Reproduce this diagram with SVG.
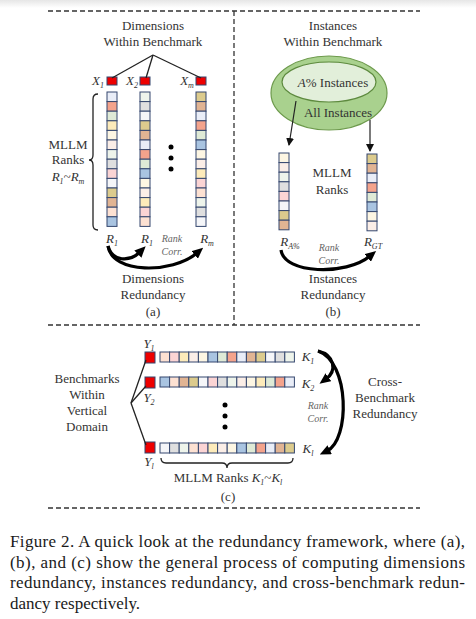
<svg xmlns="http://www.w3.org/2000/svg" width="476" height="619" viewBox="0 0 476 619">
<style>
text{font-family:"Liberation Serif","Times New Roman",serif;fill:#333}
.h{font-size:13px;text-anchor:middle}
.it{font-style:italic}
.rc{font-size:10px;font-style:italic;fill:#666;text-anchor:middle}
.cap{font-size:17px;fill:#1a1a1a}
.dash{fill:none;stroke:#333;stroke-width:1.3;stroke-dasharray:5 3}
.ln{fill:none;stroke:#222;stroke-width:1.3}
.arc{fill:none;stroke:#000;stroke-width:3.2}
.cells rect{stroke:#34466e;stroke-width:1}
.red{fill:#ee0000;stroke:#34466e;stroke-width:1}
.a{fill:#e9edf7}.s{fill:#f4a38c}.g{fill:#dfead6}.y{fill:#fdebba}.c{fill:#fdf6e3}.v{fill:#fbeee7}.m{fill:#eef4eb}
.r{fill:#dfdfdf}.p{fill:#fbd4d4}.w{fill:#f5f6f9}.k{fill:#dccb8d}.t{fill:#e1b493}.e{fill:#fde1d2}.b{fill:#a9c4e1}
</style>
<defs>
<linearGradient id="topg" x1="0" y1="0" x2="0" y2="1"><stop offset="0" stop-color="#e6e6e6"/><stop offset="1" stop-color="#fff"/></linearGradient>
<marker id="big" markerUnits="userSpaceOnUse" markerWidth="11" markerHeight="10" refX="3" refY="5" orient="auto"><path d="M0,0 L11,5 L0,10 z" fill="#000"/></marker>
<marker id="sm" markerUnits="userSpaceOnUse" markerWidth="8" markerHeight="8" refX="7" refY="4" orient="auto"><path d="M0,0 L8,4 L0,8 z" fill="#111"/></marker>
</defs>
<rect width="476" height="619" fill="#fff"/>
<rect width="476" height="8" fill="url(#topg)"/>

<g id="frame">
<path class="dash" d="M48,11 H420"/>
<path class="dash" d="M234,11 V325"/>
<path class="dash" d="M48,325 H420"/>
<path class="dash" d="M48,508 H420"/>
</g>

<!-- Panel (a) -->
<g id="a-title"><text class="h" x="153" y="30">Dimensions</text><text class="h" x="153" y="46">Within Benchmark</text></g>
<g id="a-x1"><text class="h it" x="98" y="85">X<tspan font-size="8" dy="3">1</tspan></text><rect class="red" x="107" y="77" width="10" height="8"/></g>
<g id="a-x2"><text class="h it" x="132" y="85">X<tspan font-size="8" dy="3">2</tspan></text><rect class="red" x="140" y="77" width="10" height="8"/></g>
<g id="a-xm"><text class="h it" x="187" y="85">X<tspan font-size="8" dy="3">m</tspan></text><rect class="red" x="196" y="77" width="10" height="8"/></g>
<g id="a-col1" class="cells" transform="translate(107,92)">
<rect class="a" y="0" width="10" height="9.6"/><rect class="s" y="9.6" width="10" height="9.6"/><rect class="g" y="19.2" width="10" height="9.6"/><rect class="y" y="28.8" width="10" height="9.6"/><rect class="c" y="38.4" width="10" height="9.6"/><rect class="v" y="48" width="10" height="9.6"/><rect class="m" y="57.6" width="10" height="9.6"/><rect class="r" y="67.2" width="10" height="9.6"/><rect class="p" y="76.8" width="10" height="9.6"/><rect class="w" y="86.4" width="10" height="9.6"/><rect class="k" y="96" width="10" height="9.6"/><rect class="t" y="105.6" width="10" height="9.6"/><rect class="e" y="115.2" width="10" height="9.6"/><rect class="b" y="124.8" width="10" height="9.6"/>
</g>
<g id="a-col2" class="cells" transform="translate(140,92)">
<rect class="m" y="0" width="10" height="9.6"/><rect class="r" y="9.6" width="10" height="9.6"/><rect class="w" y="19.2" width="10" height="9.6"/><rect class="k" y="28.8" width="10" height="9.6"/><rect class="t" y="38.4" width="10" height="9.6"/><rect class="a" y="48" width="10" height="9.6"/><rect class="s" y="57.6" width="10" height="9.6"/><rect class="g" y="67.2" width="10" height="9.6"/><rect class="b" y="76.8" width="10" height="9.6"/><rect class="c" y="86.4" width="10" height="9.6"/><rect class="v" y="96" width="10" height="9.6"/><rect class="y" y="105.6" width="10" height="9.6"/><rect class="p" y="115.2" width="10" height="9.6"/><rect class="e" y="124.8" width="10" height="9.6"/>
</g>
<g id="a-col3" class="cells" transform="translate(196,92)">
<rect class="k" y="0" width="10" height="9.6"/><rect class="t" y="9.6" width="10" height="9.6"/><rect class="a" y="19.2" width="10" height="9.6"/><rect class="s" y="28.8" width="10" height="9.6"/><rect class="g" y="38.4" width="10" height="9.6"/><rect class="b" y="48" width="10" height="9.6"/><rect class="c" y="57.6" width="10" height="9.6"/><rect class="v" y="67.2" width="10" height="9.6"/><rect class="y" y="76.8" width="10" height="9.6"/><rect class="p" y="86.4" width="10" height="9.6"/><rect class="e" y="96" width="10" height="9.6"/><rect class="m" y="105.6" width="10" height="9.6"/><rect class="r" y="115.2" width="10" height="9.6"/><rect class="w" y="124.8" width="10" height="9.6"/>
</g>
<g id="a-dots" fill="#000"><circle cx="171" cy="147" r="2.5"/><circle cx="171" cy="158" r="2.5"/><circle cx="171" cy="169" r="2.5"/></g>
<g id="a-ranks">
<path class="ln" d="M98,94 Q93,94 93,99 L93,155 Q93,160 89,160 Q93,160 93,165 L93,225 Q93,230 98,230"/>
<text class="h" x="68" y="149">MLLM</text><text class="h" x="68" y="164">Ranks</text>
<text class="h it" x="68" y="181">R<tspan font-size="8" dy="3">1</tspan><tspan dy="-3">~R</tspan><tspan font-size="8" dy="3">m</tspan></text>
</g>
<g id="a-labels">
<text class="h it" x="112" y="243">R<tspan font-size="8" dy="3">1</tspan></text>
<text class="h it" x="147" y="243">R<tspan font-size="8" dy="3">1</tspan></text>
<text class="h it" x="207" y="243">R<tspan font-size="8" dy="3">m</tspan></text>
<text class="rc" x="172" y="242">Rank</text><text class="rc" x="172" y="255">Corr.</text>
</g>
<g id="a-foot"><text class="h" x="153" y="283">Dimensions</text><text class="h" x="153" y="299">Redundancy</text><text class="h" x="153" y="316">(a)</text></g>

<!-- Panel (b) -->
<g id="b-title"><text class="h" x="333" y="30">Instances</text><text class="h" x="333" y="46">Within Benchmark</text></g>
<g id="b-sets">
<ellipse cx="329" cy="93" rx="58" ry="37" fill="#a9d18e" stroke="#6d9a4c" stroke-width="1.2"/>
<ellipse cx="329" cy="82" rx="47" ry="20" fill="#e2efda" stroke="#5d8a3e" stroke-width="1.2"/>
<text class="h" x="333" y="87" font-size="13.5"><tspan class="it">A</tspan>% Instances</text>
<text class="h" x="338" y="117" font-size="13.5">All Instances</text>
</g>
<g id="b-col1" class="cells" transform="translate(279,153)">
<rect class="c" y="0" width="10" height="9.6"/><rect class="v" y="9.6" width="10" height="9.6"/><rect class="m" y="19.2" width="10" height="9.6"/><rect class="r" y="28.8" width="10" height="9.6"/><rect class="p" y="38.4" width="10" height="9.6"/><rect class="w" y="48" width="10" height="9.6"/><rect class="k" y="57.6" width="10" height="9.6"/><rect class="t" y="67.2" width="10" height="9.6"/>
</g>
<g id="b-col2" class="cells" transform="translate(367,154)">
<rect class="k" y="0" width="10" height="9.6"/><rect class="t" y="9.6" width="10" height="9.6"/><rect class="a" y="19.2" width="10" height="9.6"/><rect class="s" y="28.8" width="10" height="9.6"/><rect class="g" y="38.4" width="10" height="9.6"/><rect class="b" y="48" width="10" height="9.6"/><rect class="c" y="57.6" width="10" height="9.6"/><rect class="v" y="67.2" width="10" height="9.6"/>
</g>
<g id="b-mid"><text class="h" x="332" y="177">MLLM</text><text class="h" x="332" y="194">Ranks</text></g>
<g id="b-labels">
<text class="h it" x="290" y="246">R<tspan font-size="8" dy="3">A%</tspan></text>
<text class="h it" x="373" y="246">R<tspan font-size="8" dy="3">GT</tspan></text>
<text class="rc" x="329" y="251">Rank</text><text class="rc" x="329" y="264">Corr.</text>
</g>
<g id="b-foot"><text class="h" x="333" y="283">Instances</text><text class="h" x="333" y="299">Redundancy</text><text class="h" x="333" y="316">(b)</text></g>

<!-- Panel (c) -->
<g id="c-left"><text class="h" x="87" y="383">Benchmarks</text><text class="h" x="87" y="399">Within</text><text class="h" x="87" y="415">Vertical</text><text class="h" x="87" y="431">Domain</text></g>
<g id="c-y1"><rect class="red" x="145" y="352" width="10" height="11"/><text class="h it" x="149" y="348">Y<tspan font-size="8" dy="3">1</tspan></text></g>
<g id="c-y2"><rect class="red" x="145" y="377" width="10" height="11"/><text class="h it" x="149" y="402">Y<tspan font-size="8" dy="3">2</tspan></text></g>
<g id="c-yl"><rect class="red" x="145" y="442" width="10" height="11"/><text class="h it" x="149" y="466">Y<tspan font-size="8" dy="3">l</tspan></text></g>
<g id="c-row1" class="cells" transform="translate(160,352)">
<rect class="e" x="0" width="9.6" height="10"/><rect class="p" x="9.6" width="9.6" height="10"/><rect class="y" x="19.2" width="9.6" height="10"/><rect class="v" x="28.8" width="9.6" height="10"/><rect class="c" x="38.4" width="9.6" height="10"/><rect class="b" x="48" width="9.6" height="10"/><rect class="g" x="57.6" width="9.6" height="10"/><rect class="s" x="67.2" width="9.6" height="10"/><rect class="a" x="76.8" width="9.6" height="10"/><rect class="t" x="86.4" width="9.6" height="10"/><rect class="k" x="96" width="9.6" height="10"/><rect class="w" x="105.6" width="9.6" height="10"/><rect class="r" x="115.2" width="9.6" height="10"/><rect class="m" x="124.8" width="9.6" height="10"/>
</g>
<g id="c-row2" class="cells" transform="translate(160,377)">
<rect class="b" x="0" width="9.6" height="10"/><rect class="e" x="9.6" width="9.6" height="10"/><rect class="t" x="19.2" width="9.6" height="10"/><rect class="k" x="28.8" width="9.6" height="10"/><rect class="w" x="38.4" width="9.6" height="10"/><rect class="p" x="48" width="9.6" height="10"/><rect class="r" x="57.6" width="9.6" height="10"/><rect class="m" x="67.2" width="9.6" height="10"/><rect class="v" x="76.8" width="9.6" height="10"/><rect class="c" x="86.4" width="9.6" height="10"/><rect class="y" x="96" width="9.6" height="10"/><rect class="g" x="105.6" width="9.6" height="10"/><rect class="s" x="115.2" width="9.6" height="10"/><rect class="a" x="124.8" width="9.6" height="10"/>
</g>
<g id="c-row3" class="cells" transform="translate(160,443)">
<rect class="w" x="0" width="9.6" height="10"/><rect class="r" x="9.6" width="9.6" height="10"/><rect class="m" x="19.2" width="9.6" height="10"/><rect class="e" x="28.8" width="9.6" height="10"/><rect class="p" x="38.4" width="9.6" height="10"/><rect class="y" x="48" width="9.6" height="10"/><rect class="v" x="57.6" width="9.6" height="10"/><rect class="c" x="67.2" width="9.6" height="10"/><rect class="b" x="76.8" width="9.6" height="10"/><rect class="g" x="86.4" width="9.6" height="10"/><rect class="s" x="96" width="9.6" height="10"/><rect class="a" x="105.6" width="9.6" height="10"/><rect class="t" x="115.2" width="9.6" height="10"/><rect class="k" x="124.8" width="9.6" height="10"/>
</g>
<g id="c-dots" fill="#000"><circle cx="225" cy="405" r="2.5"/><circle cx="225" cy="416" r="2.5"/><circle cx="225" cy="427" r="2.5"/></g>
<g id="c-k">
<text class="h it" x="308" y="361">K<tspan font-size="8" dy="3">1</tspan></text>
<text class="h it" x="308" y="388">K<tspan font-size="8" dy="3">2</tspan></text>
<text class="h it" x="308" y="453">K<tspan font-size="8" dy="3">l</tspan></text>
</g>
<g id="c-bottom">
<path class="ln" d="M161,458 Q161,463 166,463 L222,463 Q227,463 227,468 Q227,463 232,463 L288,463 Q293,463 293,458"/>
<text class="h" x="228" y="482">MLLM Ranks <tspan class="it">K</tspan><tspan class="it" font-size="8" dy="3">1</tspan><tspan dy="-3">~</tspan><tspan class="it">K</tspan><tspan class="it" font-size="8" dy="3">l</tspan></text>
<text class="h" x="228" y="501">(c)</text>
</g>
<g id="c-right">
<text class="rc" x="318" y="409">Rank</text><text class="rc" x="318" y="422">Corr.</text>
<text class="h" x="385" y="386">Cross-</text><text class="h" x="385" y="402">Benchmark</text><text class="h" x="385" y="418">Redundancy</text>
</g>

<g id="connectors">
<path class="ln" d="M153,55 L112,78"/>
<path class="ln" d="M153,55 L146,78"/>
<path class="ln" d="M153,55 L201,78"/>
<path class="ln" d="M296,101 L289,145" marker-end="url(#sm)" style="stroke-width:1.2"/>
<path class="ln" d="M370,120 L370,151" marker-end="url(#sm)" style="stroke-width:1.2"/>
<path class="ln" d="M131,403 L146,360"/>
<path class="ln" d="M131,403 L146,386"/>
<path class="ln" d="M131,403 L146,445"/>
<path class="arc" d="M108,246 C112,262 130,262 140,252" marker-end="url(#big)"/>
<path class="arc" d="M108,246 C112,274 172,274 197,253" marker-end="url(#big)"/>
<path class="arc" d="M281,250 C284,274 346,276 370,256" marker-end="url(#big)"/>
<path class="arc" d="M318,351 C335,355 337,371 326,379" marker-end="url(#big)"/>
<path class="arc" d="M318,351 C350,362 350,440 327,451" marker-end="url(#big)"/>
</g>

<g id="caption">
<text class="cap" x="10" y="547" textLength="455" lengthAdjust="spacing">Figure 2.  A quick look at the redundancy framework, where (a),</text>
<text class="cap" x="10" y="568" textLength="455" lengthAdjust="spacing">(b), and (c) show the general process of computing dimensions</text>
<text class="cap" x="10" y="588" textLength="455" lengthAdjust="spacing">redundancy, instances redundancy, and cross-benchmark redun-</text>
<text class="cap" x="10" y="609">dancy respectively.</text>
</g>
</svg>
